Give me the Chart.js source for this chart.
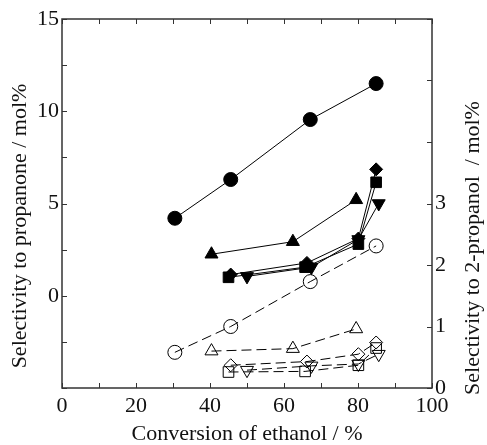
<!DOCTYPE html>
<html>
<head>
<meta charset="utf-8">
<script src="https://cdn.jsdelivr.net/npm/chart.js@4/dist/chart.umd.min.js"></script>
<style>
  html, body { margin: 0; padding: 0; background: #fff; }
  #wrap { width: 487px; height: 445px; }
</style>
</head>
<body>
<div id="wrap"><canvas id="myChart" width="487" height="445"></canvas></div>
<script>
// ethanol conversion (%) for each catalyst run, one array per marker shape
const convCircle = [30.5, 45.6, 67.1, 84.9];
const convTriUp = [40.4, 62.4, 79.5];
const convDiamond = [45.6, 66.2, 80.1, 84.9];
const convSquare = [45.0, 65.7, 80.1, 84.9];
const convTriDown = [50.0, 67.4, 80.1, 85.6];

// selectivity to propanone (mol%), left axis, filled markers
const propCircle = [4.2, 6.3, 9.55, 11.5];
const propTriUp = [2.25, 2.93, 5.2];
const propDiamond = [1.15, 1.78, 3.1, 6.85];
const propSquare = [1.0, 1.55, 2.8, 6.15];
const propTriDown = [1.05, 1.55, 3.05, 5.0];

// selectivity to 2-propanol (mol%), right axis, open markers
const isoCircle = [0.58, 1.0, 1.73, 2.31];
const isoTriUp = [0.6, 0.64, 0.96];
const isoDiamond = [0.37, 0.43, 0.55, 0.74];
const isoSquare = [0.26, 0.27, 0.37, 0.65];
const isoTriDown = [0.29, 0.36, 0.39, 0.55];

const xTicks = [0, 20, 40, 60, 80, 100];
const leftTicks = [0, 5, 10, 15];
const rightTicks = [0, 1, 2, 3];

const FONT = '"Liberation Serif", "DejaVu Serif", serif';
const INK = '#111';
const FRAME = '#333';

function pts(xs, ys) {
    return xs.map((x, i) => ({ x: x, y: ys[i] }));
}

function filled(xs, ys, style, radius, rotation) {
    return {
        data: pts(xs, ys),
        yAxisID: 'y',
        showLine: true,
        borderColor: '#000',
        borderWidth: 1,
        backgroundColor: '#000',
        pointStyle: style,
        pointRadius: radius,
        pointRotation: rotation || 0,
        pointBackgroundColor: '#000',
        pointBorderColor: '#000',
        pointBorderWidth: 1
    };
}

function open(xs, ys, style, radius, rotation) {
    return {
        data: pts(xs, ys),
        yAxisID: 'y1',
        showLine: true,
        borderColor: '#000',
        borderWidth: 1,
        borderDash: [10, 5],
        backgroundColor: 'rgba(0,0,0,0)',
        pointStyle: style,
        pointRadius: radius,
        pointRotation: rotation || 0,
        pointBackgroundColor: 'rgba(0,0,0,0)',
        pointBorderColor: '#000',
        pointBorderWidth: 1
    };
}

function sideTitle(ctx, text, x, y) {
    ctx.save();
    ctx.fillStyle = INK;
    ctx.font = '22px ' + FONT;
    ctx.textAlign = 'center';
    ctx.textBaseline = 'middle';
    ctx.translate(x, y);
    ctx.rotate(-Math.PI / 2);
    ctx.fillText(text, 0, 0);
    ctx.restore();
}

// frame, inward tick marks and the two side titles
const framePlugin = {
    id: 'frame',
    afterDraw(chart) {
        const ctx = chart.ctx;
        const a = chart.chartArea;
        const sx = chart.scales.x, sy = chart.scales.y, sy1 = chart.scales.y1;
        const len = 5;
        ctx.save();
        ctx.strokeStyle = FRAME;
        ctx.lineWidth = 1.5;
        ctx.strokeRect(a.left, a.top, a.right - a.left, a.bottom - a.top);
        ctx.lineWidth = 1;
        ctx.beginPath();
        for (let v = 0; v <= 100; v += 10) {
            const px = Math.round(sx.getPixelForValue(v)) + 0.5;
            ctx.moveTo(px, a.bottom); ctx.lineTo(px, a.bottom - len);
            ctx.moveTo(px, a.top); ctx.lineTo(px, a.top + len);
        }
        for (let v = -5; v <= 15; v += 2.5) {
            const py = Math.round(sy.getPixelForValue(v)) + 0.5;
            ctx.moveTo(a.left, py); ctx.lineTo(a.left + len, py);
        }
        for (let v = 0; v <= 6; v += 1) {
            const py = Math.round(sy1.getPixelForValue(v)) + 0.5;
            ctx.moveTo(a.right, py); ctx.lineTo(a.right - len, py);
        }
        ctx.stroke();
        ctx.restore();

        sideTitle(ctx, 'Selectivity to propanone / mol%', 20, 226);
        sideTitle(ctx, 'Selectivity to 2-propanol  / mol%', 473, 248);
    }
};

const tickFont = { family: FONT, size: 22 };

const ctx = document.getElementById('myChart').getContext('2d');
new Chart(ctx, {
    type: 'scatter',
    data: {
        datasets: [
            filled(convCircle, propCircle, 'circle', 7),
            filled(convTriUp, propTriUp, 'triangle', 7.5),
            filled(convDiamond, propDiamond, 'rectRot', 6.5),
            filled(convSquare, propSquare, 'rect', 7.5),
            filled(convTriDown, propTriDown, 'triangle', 7.5, 180),
            open(convCircle, isoCircle, 'circle', 7),
            open(convTriUp, isoTriUp, 'triangle', 7.5),
            open(convDiamond, isoDiamond, 'rectRot', 6.5),
            open(convSquare, isoSquare, 'rect', 7.5),
            open(convTriDown, isoTriDown, 'triangle', 7.5, 180)
        ]
    },
    options: {
        responsive: false,
        animation: false,
        layout: { padding: { top: 19 } },
        plugins: {
            legend: { display: false },
            tooltip: { enabled: false }
        },
        scales: {
            x: {
                type: 'linear',
                min: 0,
                max: 100,
                afterBuildTicks: s => { s.ticks = xTicks.map(v => ({ value: v })); },
                afterFit: s => { s.height = 57; },
                grid: { display: false, drawTicks: false },
                border: { display: false },
                ticks: { color: INK, font: tickFont, padding: 5, maxRotation: 0 },
                title: {
                    display: true,
                    text: 'Conversion of ethanol / %',
                    color: INK,
                    font: { family: FONT, size: 22, lineHeight: 1 },
                    padding: { top: 0, bottom: 0 }
                }
            },
            y: {
                position: 'left',
                min: -5,
                max: 15,
                afterBuildTicks: s => { s.ticks = leftTicks.map(v => ({ value: v })); },
                afterFit: s => { s.width = 62; },
                grid: { display: false, drawTicks: false },
                border: { display: false },
                ticks: { color: INK, font: tickFont, padding: 3 }
            },
            y1: {
                position: 'right',
                min: 0,
                max: 6,
                afterBuildTicks: s => { s.ticks = rightTicks.map(v => ({ value: v })); },
                afterFit: s => { s.width = 55; },
                grid: { display: false, drawTicks: false },
                border: { display: false },
                ticks: { color: INK, font: tickFont, padding: 3 }
            }
        }
    },
    plugins: [framePlugin]
});
</script>
</body>
</html>
